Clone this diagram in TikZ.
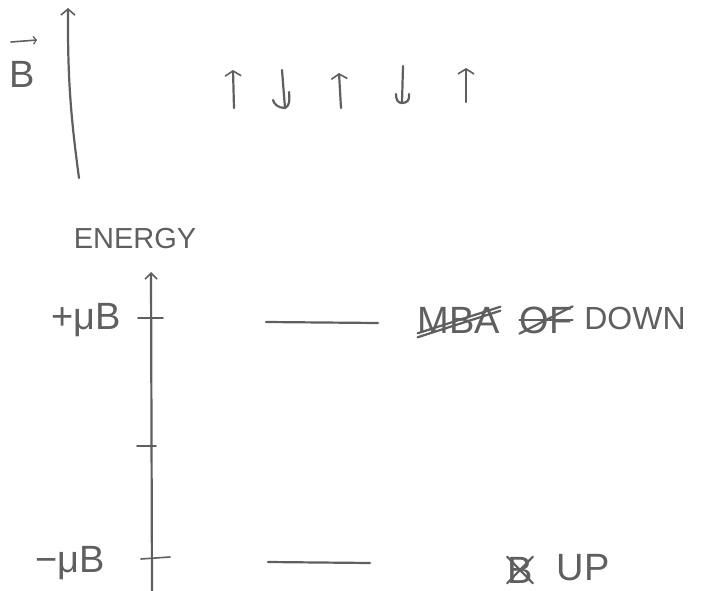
\documentclass[tikz,border=0pt]{standalone}
\usepackage{fontspec}
\setmainfont{Liberation Sans}
\usetikzlibrary{arrows.meta}
\definecolor{pencil}{RGB}{95,95,95}
\begin{document}
\begin{tikzpicture}[x=1pt,y=-1pt,
  pen/.style={draw=pencil,line width=2.2pt,line cap=round,line join=round},
  thin pen/.style={draw=pencil,line width=1.6pt,line cap=round},
  spinup/.style={pen,-{Straight Barb[length=5pt,width=16pt,line width=1.6pt]}},
  hand/.style={text=pencil,inner sep=0pt,anchor=center},
  big/.style={font=\fontsize{38}{40}\selectfont},
  mid/.style={font=\fontsize{29}{31}\selectfont},
  wide/.style={font=\fontsize{32}{34}\selectfont}]
\useasboundingbox (0,0) rectangle (701,591);

% B field arrow
\coordinate (bbot) at (79,178);
\coordinate (btop) at (68,8);
\draw[pen,-{Straight Barb[length=6pt,width=14pt,line width=1.6pt]}] (bbot) to[bend left=4] (btop);
\node[hand,big] (blabel) at (22,74) {B};
\coordinate (vl) at (11,42);
\coordinate (vr) at (37,40);
\draw[thin pen,-{Straight Barb[length=3pt,width=8pt,line width=1.2pt]}] (vl) -- (vr);

% spin arrows
\coordinate (a1) at (234,108); \coordinate (a2) at (233,70);
\coordinate (b1) at (282,70);  \coordinate (b2) at (285,108);
\coordinate (c1) at (341,108); \coordinate (c2) at (339,73);
\coordinate (d1) at (403,66);  \coordinate (d2) at (402,103);
\coordinate (e1) at (466,102); \coordinate (e2) at (466,68);
\draw[spinup] (a1) -- (a2);
\draw[pen] (b1) -- (b2);
\draw[pen] (b2) .. controls (278,108) and (274,104) .. (273,100);
\draw[pen] (b2) .. controls (289,106) and (290,102) .. (289,92);
\draw[spinup] (c1) -- (c2);
\draw[pen] (d1) -- (d2);
\draw[pen] (d2) .. controls (398,103) and (396,100) .. (396,94);
\draw[pen] (d2) .. controls (407,103) and (410,100) .. (409,94);
\draw[spinup] (e1) -- (e2);

% Energy axis
\node[hand,mid] (energy) at (135,239) {ENERGY};
\coordinate (ebot) at (152,591);
\coordinate (etop) at (151,272);
\draw[pen,-{Straight Barb[length=6pt,width=12pt,line width=1.6pt]}] (ebot) -- (etop);
\coordinate (t1l) at (138,318); \coordinate (t1r) at (163,318);
\coordinate (t2l) at (137,446); \coordinate (t2r) at (156,446);
\coordinate (t3l) at (141,559); \coordinate (t3r) at (170,557);
\draw[thin pen] (t1l) -- (t1r);
\draw[thin pen] (t2l) -- (t2r);
\draw[thin pen] (t3l) -- (t3r);
\node[hand,big] (plus) at (86,320) {+μB};
\node[hand,big] (minus) at (70,563) {−μB};

% energy levels
\coordinate (u1) at (266,322); \coordinate (u2) at (378,323);
\coordinate (l1) at (268,562); \coordinate (l2) at (370,563);
\draw[pen] (u1) -- (u2);
\draw[pen] (l1) -- (l2);

% labels
\node[hand,big] (mba) at (459,320) {MBA};
\draw[pen] (mba.south west) -- (mba.north east);
\draw[pen] ([yshift=-4pt]mba.south west) -- ([yshift=-4pt]mba.north east);
\node[hand,big] (of) at (546,320) {OF};
\draw[pen] (of.west) -- (of.east);
\draw[pen] (of.south west) -- (of.north east);
\node[hand,wide] (down) at (635,318) {DOWN};

\node[hand,big] (bx) at (520,570) {B};
\draw[pen] (bx.south west) -- (bx.north east);
\draw[pen] (bx.north west) -- (bx.south east);
\node[hand,big] (up) at (583,568) {UP};
\end{tikzpicture}
\end{document}
